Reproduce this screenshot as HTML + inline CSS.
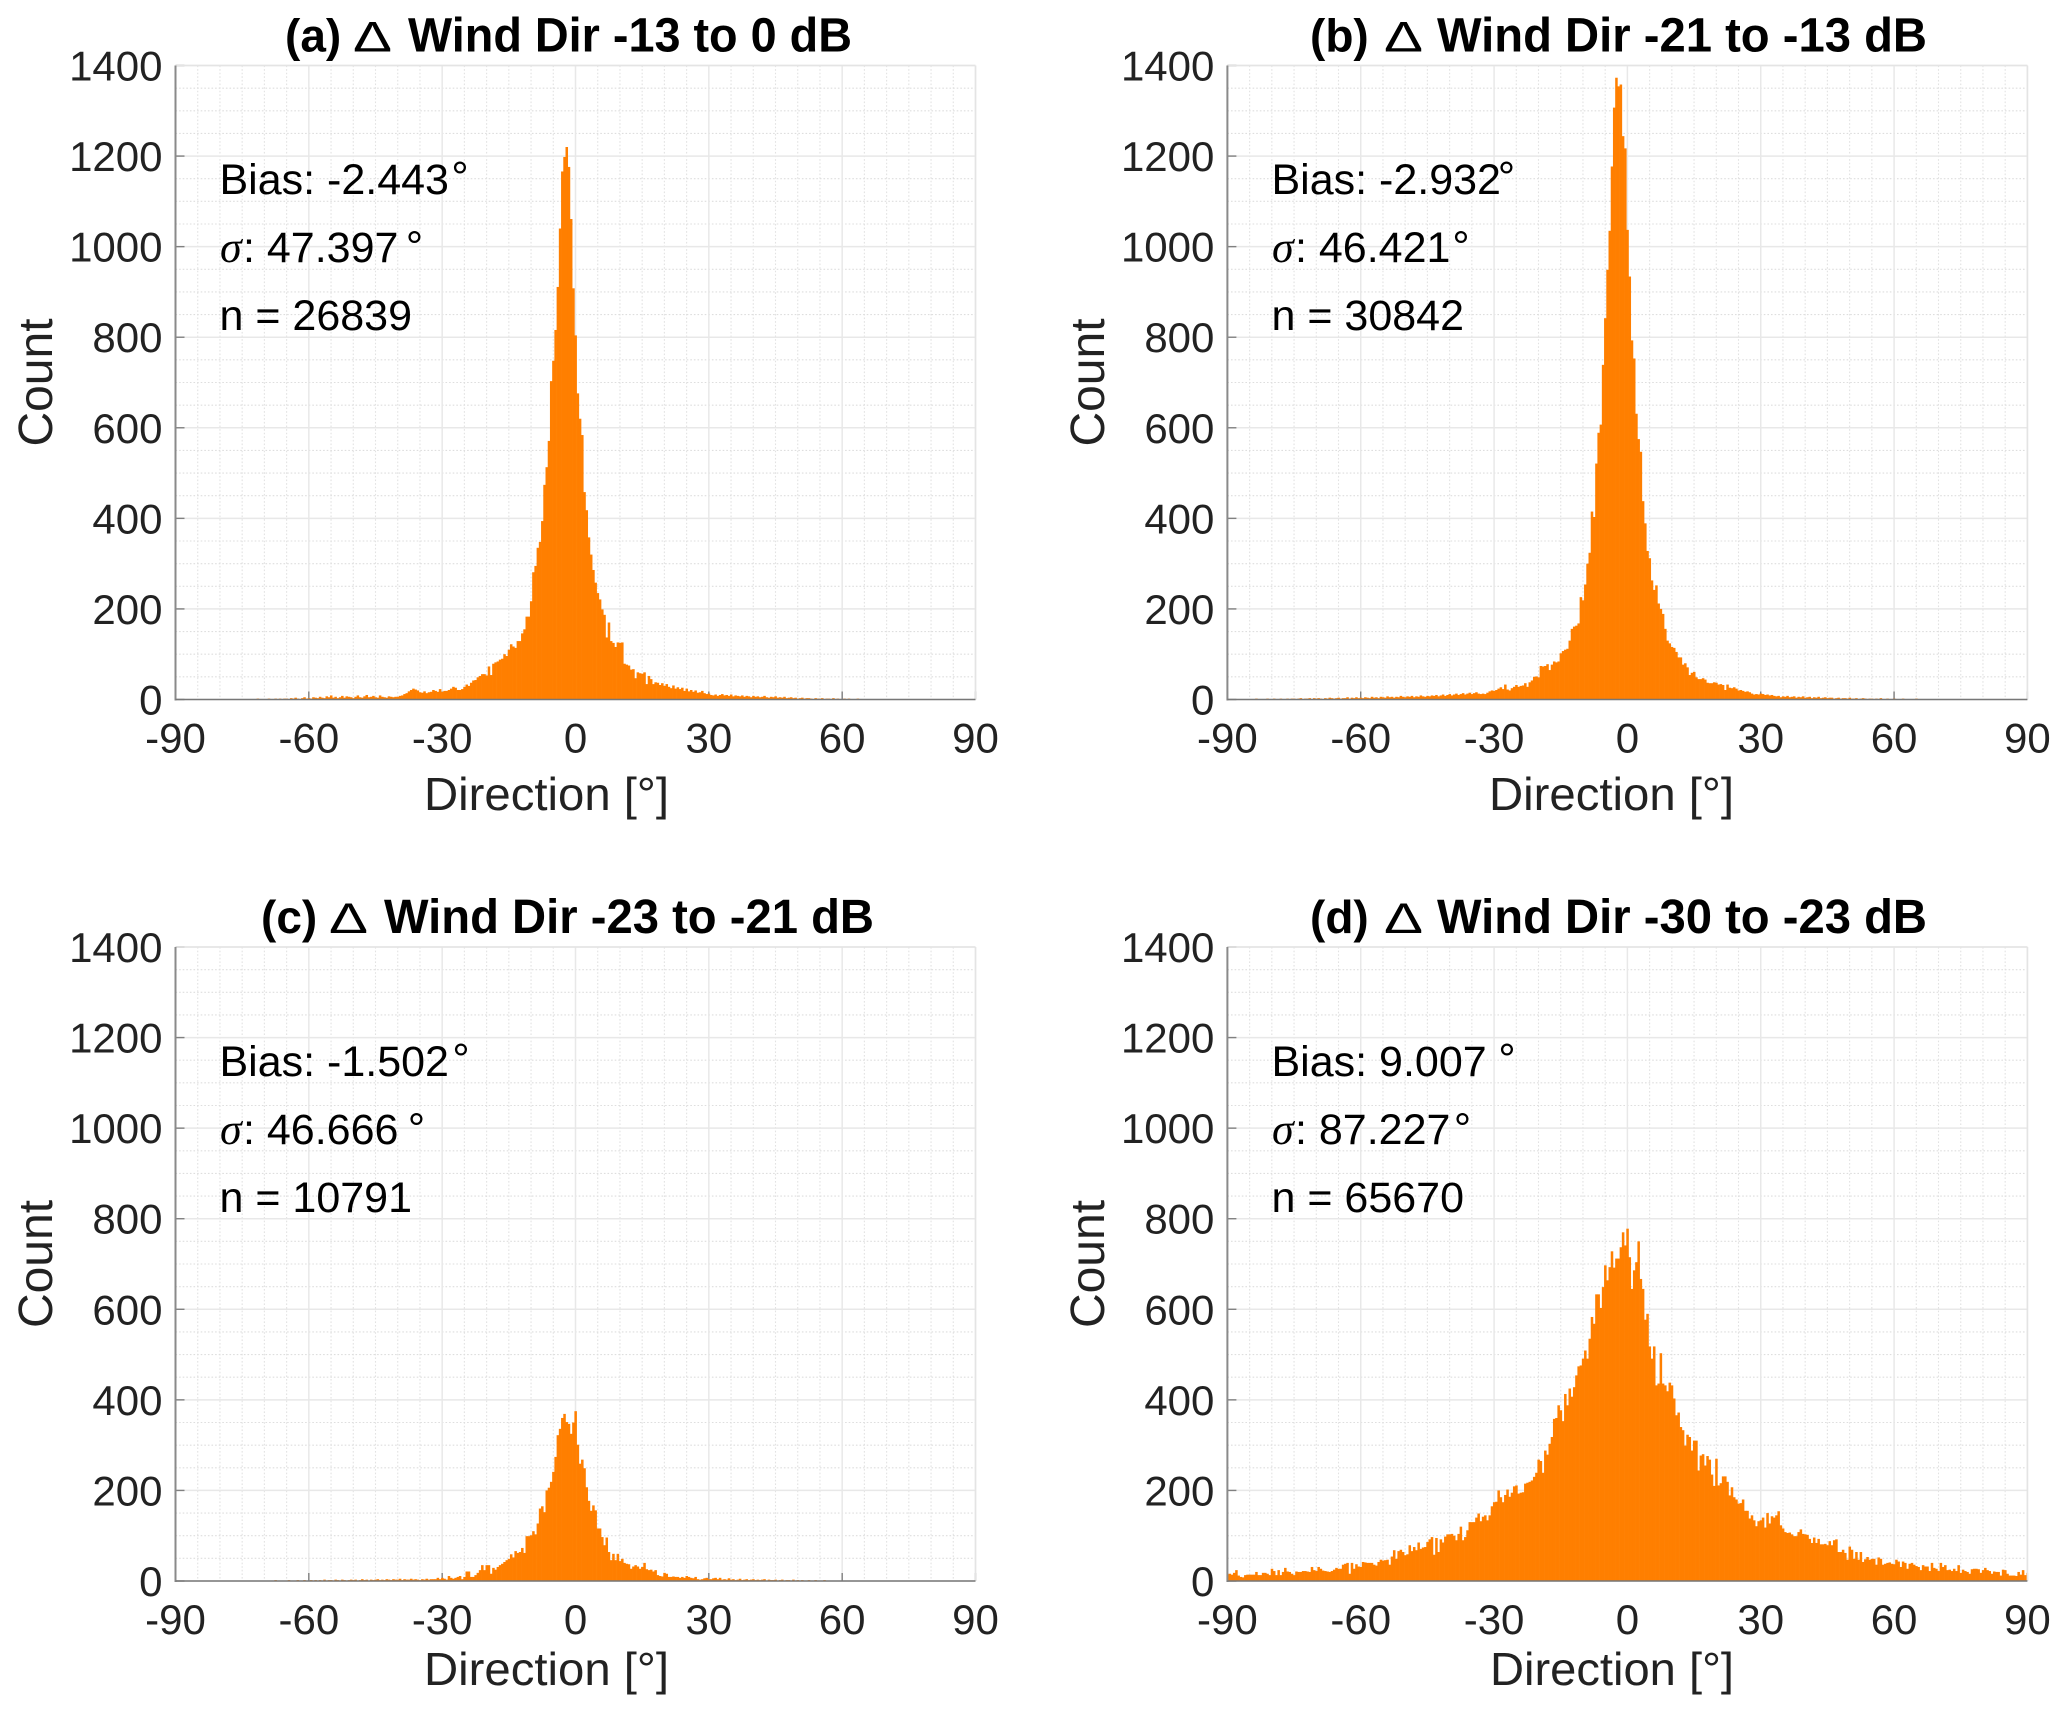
<!DOCTYPE html>
<html lang="en">
<head>
<meta charset="utf-8">
<title>Wind direction error histograms</title>
<style>
html,body{margin:0;padding:0;background:#fff;}
svg{display:block;font-family:"Liberation Sans",sans-serif;}
.title{font-size:48px;font-weight:bold;fill:#000;}
.tag{font-size:46px;font-weight:bold;fill:#000;}
.delta{font-size:43px;font-weight:normal;fill:#000;}
.note{font-size:43px;fill:#000;}
.sigma{font-family:"Liberation Serif",serif;font-style:italic;font-size:44px;fill:#000;}
.axis-title{font-size:46px;fill:#222;}
.count-title{font-size:48px;fill:#222;}
.tick{font-size:42px;fill:#222;}
</style>
</head>
<body>
<svg xmlns="http://www.w3.org/2000/svg" width="2067" height="1713" viewBox="0 0 2067 1713">
<rect width="2067" height="1713" fill="#fff"/>
<g id="plot-a"></g>
<g id="plot-b"></g>
<g id="plot-c"></g>
<g id="plot-d"></g>

<g>
<text class="tag" x="285" y="51.5">(a)</text>
<text class="delta" x="353" y="51.5" textLength="39" lengthAdjust="spacingAndGlyphs">Δ</text>
<text class="title" x="408" y="51.5" textLength="444" lengthAdjust="spacingAndGlyphs">Wind Dir -13 to 0 dB</text>
<text class="note" x="219.5" y="194">Bias: -2.443</text>
<text class="note" x="460" y="191.5" text-anchor="middle">°</text>
<text class="sigma" x="220" y="262">σ</text>
<text class="note" x="243" y="262">: 47.397</text>
<text class="note" x="414.5" y="261" text-anchor="middle">°</text>
<text class="note" x="219.5" y="330">n = 26839</text>
<text class="axis-title" x="424" y="810" textLength="245" lengthAdjust="spacingAndGlyphs">Direction [°]</text>
<text class="count-title" transform="translate(52,382.5) rotate(-90)" text-anchor="middle">Count</text>
</g>

<g>
<text class="tag" x="1310" y="51.5">(b)</text>
<text class="delta" x="1384" y="51.5" textLength="39" lengthAdjust="spacingAndGlyphs">Δ</text>
<text class="title" x="1437" y="51.5" textLength="490" lengthAdjust="spacingAndGlyphs">Wind Dir -21 to -13 dB</text>
<text class="note" x="1271.5" y="194">Bias: -2.932</text>
<text class="note" x="1506.5" y="191.5" text-anchor="middle">°</text>
<text class="sigma" x="1272" y="262">σ</text>
<text class="note" x="1295" y="262">: 46.421</text>
<text class="note" x="1461" y="261" text-anchor="middle">°</text>
<text class="note" x="1271.5" y="330">n = 30842</text>
<text class="axis-title" x="1489" y="810" textLength="245" lengthAdjust="spacingAndGlyphs">Direction [°]</text>
<text class="count-title" transform="translate(1104,382.5) rotate(-90)" text-anchor="middle">Count</text>
</g>

<g>
<text class="tag" x="261" y="933">(c)</text>
<text class="delta" x="329" y="933" textLength="39" lengthAdjust="spacingAndGlyphs">Δ</text>
<text class="title" x="384" y="933" textLength="490" lengthAdjust="spacingAndGlyphs">Wind Dir -23 to -21 dB</text>
<text class="note" x="219.5" y="1076">Bias: -1.502</text>
<text class="note" x="461" y="1073.5" text-anchor="middle">°</text>
<text class="sigma" x="220" y="1144">σ</text>
<text class="note" x="243" y="1144">: 46.666</text>
<text class="note" x="416.5" y="1143" text-anchor="middle">°</text>
<text class="note" x="219.5" y="1212">n = 10791</text>
<text class="axis-title" x="424" y="1685" textLength="245" lengthAdjust="spacingAndGlyphs">Direction [°]</text>
<text class="count-title" transform="translate(52,1264) rotate(-90)" text-anchor="middle">Count</text>
</g>

<g>
<text class="tag" x="1310" y="933">(d)</text>
<text class="delta" x="1384" y="933" textLength="39" lengthAdjust="spacingAndGlyphs">Δ</text>
<text class="title" x="1437" y="933" textLength="490" lengthAdjust="spacingAndGlyphs">Wind Dir -30 to -23 dB</text>
<text class="note" x="1271.5" y="1076">Bias: 9.007</text>
<text class="note" x="1507" y="1073.5" text-anchor="middle">°</text>
<text class="sigma" x="1272" y="1144">σ</text>
<text class="note" x="1295" y="1144">: 87.227</text>
<text class="note" x="1462.5" y="1143" text-anchor="middle">°</text>
<text class="note" x="1271.5" y="1212">n = 65670</text>
<text class="axis-title" x="1490" y="1685" textLength="244" lengthAdjust="spacingAndGlyphs">Direction [°]</text>
<text class="count-title" transform="translate(1104,1264) rotate(-90)" text-anchor="middle">Count</text>
</g>
</svg>

<script>
// Axis data
const xTicks = [-90, -60, -30, 0, 30, 60, 90];
const yTicks = [0, 200, 400, 600, 800, 1000, 1200, 1400];
const xMinorStep = 5;
const yMinorStep = 50;
const binWidth = 0.5;
const xMin = -90;
const xMax = 90;
const yMax = 1400;

// Panel (a): counts for bins below 0 deg (ends at the bin next to 0), then from 0 deg upward
const countsANeg = [
1,0,1,0,0,1,0,1,0,0,1,0,0,1,0,1,0,0,1,1,0,1,0,1,1,0,1,0,1,1,1,0,1,1,0,1,1,2,1,1,0,1,2,1,1,2,1,2,1,2,2,1,3,2,4,2,1,3,5,2,
3,2,5,4,3,6,4,3,7,5,9,4,6,3,5,8,4,7,6,5,3,6,9,5,4,7,10,5,6,8,5,4,9,6,5,4,7,6,5,6,
6,8,9,12,14,18,21,24,22,20,16,15,18,14,16,
17,21,19,17,23,17,19,19,21,24,28,26,21,21,23,28,33,30,37,42,43,49,52,56,56,53,73,54,79,82,84,88,90,
100,96,110,122,117,114,129,129,146,155,183,183,217,281,295,335,348,394,474,513,571,703,748,816,911,1040,1166,1198,1220,1176,1061,908];
const countsAPos = [
804,676,620,584,458,418,358,320,286,258,235,221,199,187,137,170,129,125,116,126,125,126,79,77,75,66,67,47,60,58,57,60,34,52,45,34,
38,37,32,36,30,34,28,25,31,24,27,23,26,19,24,18,21,17,20,15,16,19,14,12,13,10,9,11,8,10,12,9,10,8,11,7,
9,8,7,9,6,8,7,5,8,6,7,5,6,8,5,4,6,5,7,4,5,4,6,3,4,5,3,4,2,3,4,2,3,3,2,1,3,2,2,3,1,2,2,1,3,1,2,1,1,2,1,2,1,1,0,2,1,1,0,1,1,0,1,1,0,1,0,1,1,0,1,0,0,1,0,1,0,0,1,0,0,1,0,0,1,0,0,0,1,0,0,0,1,0,0,0,1,0,0,0,0,1,0,0,0,1,0,0,0];

// Panel (b)
const countsBNeg = [
0,1,0,0,1,0,1,1,0,1,1,0,1,2,0,1,1,0,2,1,1,2,0,1,2,1,1,2,1,2,2,1,2,3,1,2,2,3,1,3,2,3,2,1,3,2,4,3,2,3,4,2,3,3,5,2,4,3,5,3,
4,3,5,4,3,6,4,5,3,6,5,4,7,5,6,4,6,5,8,6,5,7,6,8,5,7,6,9,7,6,
8,7,9,8,10,7,9,11,8,10,12,9,11,13,10,12,14,11,13,15,12,14,16,13,
12,13,12,15,18,20,19,21,24,27,23,33,22,20,25,28,32,28,30,31,36,28,38,42,50,51,49,74,73,74,78,65,77,84,82,84,102,107,110,112,130,156,161,163,168,226,219,254,300,324,415,403,521,589,607,739,842,949,1035,1177,1307,1373,1354,1358,1244,1217];
const countsBPos = [
1037,934,793,753,631,575,547,438,389,328,312,263,242,252,212,200,189,156,130,124,116,114,105,93,93,77,80,71,54,59,61,49,45,45,47,44,37,36,36,38,37,33,34,32,21,33,26,25,27,24,20,21,19,17,18,16,13,11,12,11,13,12,10,11,9,10,8,7,8,5,
7,6,8,5,6,7,4,6,5,7,4,5,6,3,5,4,6,3,4,5,3,4,4,2,3,4,2,3,3,2,4,2,2,3,1,2,3,2,1,2,2,1,2,1,3,1,1,2,1,1,2,1,0,1,2,1,1,0,1,1,2,0,1,1,0,1,1,0,1,0,1,1,0,1,0,0,1,0,1,0,0,1,0,0,1,0,0,1,0,0,0,1,0,0,0,1,0,0,0,1,0,0,0,0,1,0,0,0,1,0,0];

// Panel (c)
const countsCNeg = [
0,0,1,0,0,0,1,0,0,1,0,0,0,1,0,0,1,0,0,0,1,0,0,1,0,1,0,0,1,0,1,0,0,1,1,0,0,1,0,1,1,0,1,0,1,2,0,1,1,0,1,2,0,1,1,2,0,1,2,1,
1,2,1,2,0,2,1,3,1,2,2,1,3,2,1,3,2,1,2,3,2,3,1,2,4,2,3,1,3,2,3,4,2,3,2,4,3,2,4,3,3,5,2,4,3,3,5,3,4,3,2,4,3,5,3,
4,4,4,7,4,7,5,3,11,7,5,7,9,11,4,9,21,21,9,9,13,18,24,35,24,35,35,16,29,25,31,35,38,42,46,49,59,52,66,62,64,73,62,99,99,101,110,103,127,160,165,152,200,206,219,241,274,322,336,360,369,351,347,325,350];
const countsCPos = [
375,301,259,268,249,207,177,155,167,156,116,116,97,79,96,64,46,60,46,60,44,49,40,38,37,27,32,35,32,27,31,40,26,24,25,21,24,13,11,10,18,16,9,9,10,9,9,7,9,7,11,9,7,6,9,4,3,4,6,7,4,4,6,7,4,7,3,4,3,6,
3,4,2,3,5,2,3,4,2,3,4,2,3,2,3,4,1,3,2,2,3,1,2,3,1,2,2,1,3,1,2,1,2,1,1,2,0,1,2,1,1,0,2,1,0,1,1,0,1,1,0,1,0,1,1,0,1,0,0,1,1,0,1,0,0,1,0,1,0,0,1,0,0,1,0,0,1,0,0,0,1,0,0,0,1,0,0,1,0,0,0,0,1,0,0,0,1,0,0,0,1,0,0,0,0,1,0,0,0,1,0];

// Panel (d)
const countsDNeg = [
14,16,14,18,24,12,9,8,13,14,14,14,14,20,13,13,18,18,16,13,27,22,13,24,13,20,29,21,20,16,13,21,20,20,22,22,21,20,31,24,22,31,27,23,22,21,20,22,25,29,
27,27,36,38,40,16,40,27,37,32,31,42,41,40,40,40,36,34,42,47,45,46,47,36,54,68,49,66,69,64,57,59,79,66,75,68,85,71,74,75,86,92,97,58,95,64,92,85,98,103,
103,104,100,90,104,120,90,97,112,130,130,130,140,149,132,142,145,134,145,165,174,175,200,185,174,190,202,186,195,209,211,193,195,196,215,217,219,222,230,239,268,265,239,288,279,303,318,358,360,388,
377,353,413,388,425,407,428,454,474,476,491,509,491,535,583,568,633,633,603,649,697,664,693,728,692,712,712,737,770,741];
const countsDPos = [
778,715,645,686,704,750,667,645,577,590,518,491,518,432,436,503,436,432,419,438,432,403,366,372,340,333,299,323,318,288,310,310,244,277,280,255,276,268,235,210,270,211,216,231,231,219,189,207,185,180,
171,172,180,155,155,138,145,134,121,132,134,140,118,150,127,143,140,145,154,123,116,108,106,107,103,99,99,108,114,104,103,102,93,84,96,84,93,81,81,82,79,88,79,90,92,64,64,69,62,47,
76,69,49,64,47,64,42,48,53,47,49,49,36,52,49,36,38,40,41,38,37,47,43,31,43,40,27,38,40,36,33,31,24,35,32,32,22,40,29,27,22,40,31,35,24,25,22,27,22,35,
18,25,22,20,16,26,27,27,26,18,24,29,24,22,16,21,20,20,12,25,24,16,12,12,12,11,20,14,24,13,18];

const SVG_NS = 'http://www.w3.org/2000/svg';
const plotWidth = 800;
const plotHeight = 634;

function line(parent, x1, y1, x2, y2, color, width, dash) {
  const el = document.createElementNS(SVG_NS, 'line');
  el.setAttribute('x1', x1);
  el.setAttribute('y1', y1);
  el.setAttribute('x2', x2);
  el.setAttribute('y2', y2);
  el.setAttribute('stroke', color);
  el.setAttribute('stroke-width', width);
  if (dash) el.setAttribute('stroke-dasharray', dash);
  parent.appendChild(el);
  return el;
}

function label(parent, x, y, anchor, content) {
  const el = document.createElementNS(SVG_NS, 'text');
  el.setAttribute('x', x);
  el.setAttribute('y', y);
  el.setAttribute('text-anchor', anchor);
  el.setAttribute('class', 'tick');
  el.textContent = content;
  parent.appendChild(el);
  return el;
}

function drawPanel(groupId, left, top, neg, pos) {
  const g = document.getElementById(groupId);
  const bottom = top + plotHeight;
  const right = left + plotWidth;
  const xScale = function (d) { return left + (d - xMin) / (xMax - xMin) * plotWidth; };
  const yScale = function (c) { return bottom - c / yMax * plotHeight; };

  // minor grid
  for (let d = xMin; d <= xMax; d += xMinorStep) {
    if (xTicks.indexOf(d) >= 0) continue;
    const m = line(g, xScale(d), top, xScale(d), bottom, '#e2e2e2', 1.1, '1.6 2');
    
    
  }
  for (let c = 0; c <= yMax; c += yMinorStep) {
    if (yTicks.indexOf(c) >= 0) continue;
    const m = line(g, left, yScale(c), right, yScale(c), '#dedede', 1.1, '1.6 2');
    
    
  }
  // major grid
  xTicks.forEach(function (d) {
    const m = line(g, xScale(d), top, xScale(d), bottom, '#e8e8e8', 1.5);
    
    
  });
  yTicks.forEach(function (c) {
    const m = line(g, left, yScale(c), right, yScale(c), '#e8e8e8', 1.5);
    
    
  });
  // x ticks and labels
  xTicks.forEach(function (d) {
    const t = line(g, xScale(d), bottom, xScale(d), bottom - 8, '#777', 1.3);
    
    
    const l = label(g, xScale(d), bottom + 53, 'middle', String(d));
    
    
  });
  // y ticks and labels
  yTicks.forEach(function (c) {
    const t = line(g, left, yScale(c), left + 9, yScale(c), '#808080', 1.4);
    
    
    const l = label(g, left - 13, yScale(c) + 15, 'end', String(c));
    
    
  });

  // histogram bars
  const addBar = function (center, value) {
    const x0 = Math.max(left, xScale(center - binWidth / 2));
    const x1 = Math.min(right, xScale(center + binWidth / 2) + 0.3);
    const bar = document.createElementNS(SVG_NS, 'rect');
    bar.setAttribute('x', x0);
    bar.setAttribute('y', yScale(value));
    bar.setAttribute('width', Math.max(0, x1 - x0));
    bar.setAttribute('height', yScale(0) - yScale(value));
    bar.setAttribute('fill', '#ff7f00');
    
    
    g.appendChild(bar);
  };
  neg.forEach(function (v, j) { addBar((j - neg.length) * binWidth, v); });
  pos.forEach(function (v, j) { addBar(j * binWidth, v); });

  // axis lines and box
  const topEdge = line(g, left, top, right, top, '#e4e4e4', 1.5);
  
  
  const rightEdge = line(g, right, top, right, bottom, '#e4e4e4', 1.5);
  
  
  const yAxis = line(g, left, top, left, bottom + 1, '#8a8a8a', 2);
  
  
  const xAxis = line(g, left, bottom, right, bottom, '#777777', 1.4);
  
  
}

drawPanel('plot-a', 175.5, 65.5, countsANeg, countsAPos);
drawPanel('plot-b', 1227.4, 65.5, countsBNeg, countsBPos);
drawPanel('plot-c', 175.5, 947, countsCNeg, countsCPos);
drawPanel('plot-d', 1227.4, 947, countsDNeg, countsDPos);
</script>
</body>
</html>
